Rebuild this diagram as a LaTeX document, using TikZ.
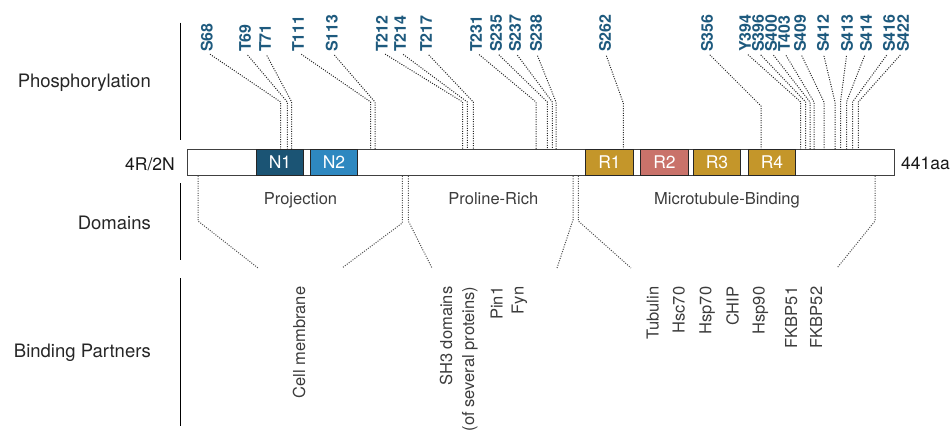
\documentclass[tikz,border=0pt]{standalone}
\usepackage{fontspec}
\setmainfont{TeX Gyre Heros}
\definecolor{phoscol}{RGB}{30,90,126}
\definecolor{nonecol}{RGB}{27,84,116}
\definecolor{ntwocol}{RGB}{46,136,192}
\definecolor{goldcol}{RGB}{196,150,42}
\definecolor{rtwocol}{RGB}{201,114,106}
\definecolor{txtcol}{RGB}{60,60,60}
\tikzset{
  phos/.style={rotate=90, anchor=west, inner sep=0pt, text=phoscol, font=\fontsize{16}{19}\selectfont\bfseries},
  bind/.style={rotate=90, anchor=base east, inner sep=0pt, text=txtcol, font=\fontsize{16.5}{19}\selectfont},
  domlab/.style={anchor=base, inner sep=0pt, text=txtcol, font=\fontsize{16.5}{19}\selectfont},
  seclab/.style={anchor=base east, inner sep=0pt, text=black!85, font=\fontsize{18.5}{21}\selectfont},
  endlab/.style={inner sep=0pt, text=black!90, font=\fontsize{17.5}{20}\selectfont},
  pline/.style={draw=black!85, line width=1pt, dash pattern=on 1pt off 1.4pt},
  dline/.style={draw=black!70, line width=1pt, dash pattern=on 1pt off 1.4pt},
  sepline/.style={draw=black, line width=1pt},
  barbox/.style={draw=black!75, line width=1pt, fill=white, inner sep=0pt, minimum width=707pt, minimum height=26.4pt},
  regbox/.style={draw=black!85, line width=1pt, inner sep=0pt, minimum width=47.5pt, minimum height=26.4pt, text=white, font=\fontsize{17.5}{20}\selectfont},
}
\begin{document}
\begin{tikzpicture}[x=1pt,y=-1pt]
\useasboundingbox (0,0) rectangle (951,430);
% section labels
\node[seclab] (secP) at (151,88) {Phosphorylation};
\node[seclab] (secD) at (151,229.5) {Domains};
\node[seclab] (secB) at (151,358) {Binding Partners};
\draw[sepline] (180.7,22.7) -- (180.7,140);
\draw[sepline] (180.7,183.3) -- (180.7,260);
\draw[sepline] (180.7,278.3) -- (180.7,426);
% bar
\node[barbox] (bar) at (540.5,162.5) {};
\node[regbox, fill=nonecol] (N1) at (280,162.5) {N1};
\node[regbox, fill=ntwocol] (N2) at (334,162.5) {N2};
\node[regbox, fill=goldcol] (R1) at (609.5,162.5) {R1};
\node[regbox, fill=rtwocol] (R2) at (664.5,162.5) {R2};
\node[regbox, fill=goldcol] (R3) at (717,162.5) {R3};
\node[regbox, fill=goldcol] (R4) at (772,162.5) {R4};
\node[endlab, anchor=base east] (iso) at (175,171) {4R/2N};
\node[endlab, anchor=base west] (len) at (901,170) {441aa};
% phosphorylation sites
\foreach \nm/\lx/\vx/\ky in {S68/206.7/280.7/102, T69/245/287.3/102, T71/265/291.7/102,
  T111/298/370.7/102, S113/331.7/375/102, T212/381.7/462.7/102, T214/400/467.3/102,
  T217/426/473.3/102, T231/476/536/102, S235/496/547.3/102, S237/515/552.3/102,
  S238/536/556/102, S262/605/623.3/103, S356/707/761/106, Y394/745/800.7/102,
  S396/758/805.7/102, S400/771/810/102, T403/784/814/102, S409/800/824/102,
  S412/823/835/102, S413/847/840.5/102, S414/866/846.5/102, S416/889/852.5/102,
  S422/903/858.3/102}{
  \node[phos] (p\nm) at (\lx,52) {\nm};
  \coordinate (k\nm) at (\vx,\ky);
  \coordinate (b\nm) at (\vx,149.3);
  \draw[pline, shorten <=4pt] (p\nm.west) -- (k\nm) -- (b\nm);
}
% domains
\node[domlab] (dProj) at (300.5,205) {Projection};
\node[domlab] (dPro) at (493.3,205) {Proline-Rich};
\node[domlab] (dMT) at (727,205) {Microtubule-Binding};
\foreach \i/\bx/\ky/\ex in {1/198/221/258, 2/402.3/223/342, 3/408.3/221/432,
  4/573/220/557, 5/578.3/221/631, 6/875/221/837}{
  \coordinate (dt\i) at (\bx,176);
  \coordinate (dk\i) at (\bx,\ky);
  \coordinate (de\i) at (\ex,268);
  \draw[dline] (dt\i) -- (dk\i) -- (de\i);
}
% binding partners
\node[bind] (bCell) at (305,286.5) {Cell membrane};
\node[bind] (bSH) at (452,286.5) {SH3 domains};
\node[bind] (bSHb) at (474,286.5) {(of several proteins)};
\node[bind] (bPin) at (502.7,286.5) {Pin1};
\node[bind] (bFyn) at (523.7,286.5) {Fyn};
\node[bind] (bTub) at (658.7,286.5) {Tubulin};
\node[bind] (bHsc) at (684.7,286.5) {Hsc70};
\node[bind] (bHsp) at (711.3,286.5) {Hsp70};
\node[bind] (bCHIP) at (738.7,286.5) {CHIP};
\node[bind] (bHsp9) at (764.7,286.5) {Hsp90};
\node[bind] (bFK1) at (797,286.5) {FKBP51};
\node[bind] (bFK2) at (822,286.5) {FKBP52};
\end{tikzpicture}
\end{document}
